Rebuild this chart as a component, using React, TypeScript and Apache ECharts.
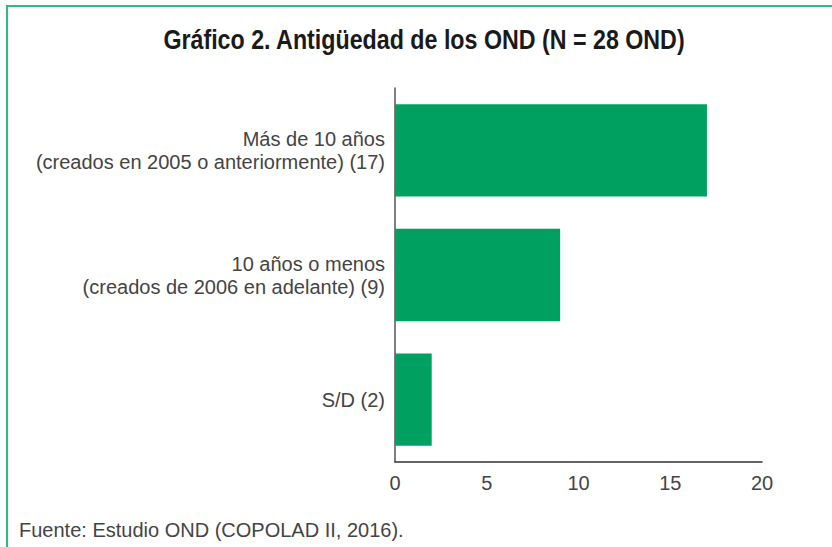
import React, { useEffect, useRef } from "react";
import * as echarts from "echarts";

const categories = [
  "Más de 10 años\n(creados en 2005 o anteriormente) (17)",
  "10 años o menos\n(creados de 2006 en adelante) (9)",
  "S/D (2)",
];
const values = [17, 9, 2];
const titleText = "Gráfico 2. Antigüedad de los OND (N = 28 OND)";
const sourceText = "Fuente: Estudio OND (COPOLAD II, 2016).";

const bodyFont = "'Liberation Sans', Arial, sans-serif";

export default function App() {
  const ref = useRef<HTMLDivElement>(null);
  useEffect(() => {
    if (!ref.current) return;
    const chart = echarts.init(ref.current, null, { renderer: "svg" });
    chart.setOption({
      animation: false,
      backgroundColor: "#ffffff",
      graphic: [
        {
          type: "rect",
          shape: { x: 7, y: 6, width: 900, height: 600 },
          style: { fill: "none", stroke: "#2dbd78", lineWidth: 2 },
          silent: true,
        },
        {
          type: "text",
          x: 424,
          y: 39,
          scaleX: 0.83,
          style: {
            text: titleText,
            x: 0,
            y: 0,
            align: "center",
            verticalAlign: "middle",
            fontFamily: "'Liberation Sans', Arial, sans-serif",
            fontWeight: "bold",
            fontSize: 28,
            fill: "#1a1a1a",
          },
        },
        {
          type: "text",
          left: 19,
          top: 520,
          style: {
            text: sourceText,
            fontFamily: bodyFont,
            fontSize: 20,
            fill: "#444444",
          },
        },
      ],
      grid: { left: 395, right: 70, top: 88, bottom: 85, containLabel: false },
      xAxis: {
        type: "value",
        min: 0,
        max: 20,
        interval: 5,
        axisLine: { show: true, lineStyle: { color: "#333333", width: 1.5 } },
        axisTick: { show: false },
        splitLine: { show: false },
        axisLabel: {
          margin: 11,
          fontFamily: bodyFont,
          fontSize: 20,
          color: "#444444",
        },
      },
      yAxis: {
        type: "category",
        data: categories,
        inverse: true,
        axisLine: { show: true, lineStyle: { color: "#555555", width: 1.5 } },
        axisTick: { show: false },
        axisLabel: {
          margin: 10,
          align: "right",
          lineHeight: 23,
          fontFamily: bodyFont,
          fontSize: 20,
          color: "#444444",
        },
      },
      series: [
        {
          type: "bar",
          data: values,
          barCategoryGap: "26%",
          itemStyle: { color: "#00a160" },
        },
      ],
    });
    return () => chart.dispose();
  }, []);
  return (
    <div
      ref={ref}
      style={{ position: "fixed", left: 0, top: 0, width: 832, height: 547 }}
    />
  );
}
